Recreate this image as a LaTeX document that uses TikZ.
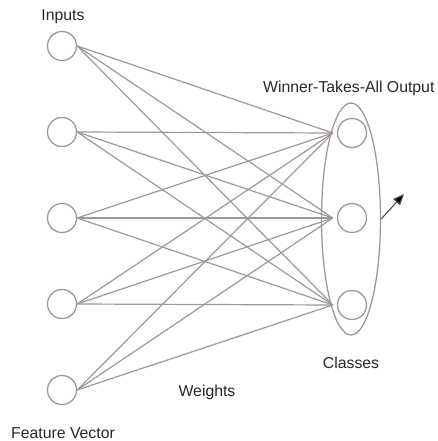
\documentclass[tikz,border=0pt]{standalone}
\usepackage{fontspec}
\setmainfont{Liberation Sans}
\usetikzlibrary{arrows.meta,shapes.geometric}
\definecolor{linegray}{RGB}{160,152,152}
\definecolor{txt}{RGB}{40,40,40}
\tikzset{
  unit/.style={circle, draw=linegray, line width=1.3pt, minimum size=29pt, inner sep=0pt},
  wire/.style={draw=linegray, line width=1.2pt},
  lbl/.style={text=txt, font=\fontsize{15.8}{18}\selectfont, inner sep=0pt},
}
\begin{document}
\begin{tikzpicture}[x=1pt,y=1pt]
\useasboundingbox[fill=white] (0,0) rectangle (438,-441);
% inputs
\foreach \i/\y in {1/46,2/132,3/218,4/304,5/390}
  \node[unit] (i\i) at (62,-\y) {};
% outputs
\foreach \j/\y in {1/133,2/218,3/305}
  \node[unit] (o\j) at (352,-\y) {};
% weights
\foreach \i in {1,...,5}
  \foreach \j in {1,2,3}
    \draw[wire] (i\i.east) -- ([xshift=-4pt]o\j.west);
% group ellipse
\node[draw=linegray, line width=1.3pt, ellipse, minimum width=59pt, minimum height=232pt, inner sep=0pt] (grp) at (351,-219) {};
\coordinate (aend) at (404,-194);
\draw[draw=black!70, line width=1.1pt, -{Triangle[length=11pt,width=9pt,fill=black]}] (grp.east) -- (aend);
% labels
\node[lbl] (tin) at (63,-17) {Inputs};
\node[lbl, anchor=west] (twta) at (263,-88) {Winner-Takes-All Output};
\node[lbl] (tcls) at (351,-363) {Classes};
\node[lbl] (tw) at (207,-392) {Weights};
\node[lbl] (tfv) at (63,-433) {Feature Vector};
\end{tikzpicture}
\end{document}
